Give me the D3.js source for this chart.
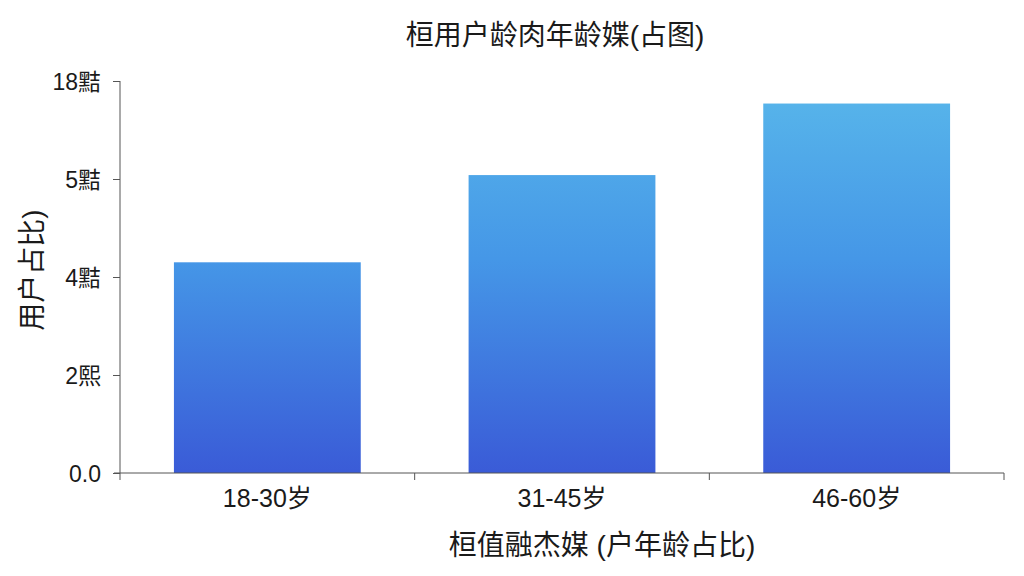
<!DOCTYPE html>
<html>
<head>
<meta charset="utf-8">
<script src="https://cdn.jsdelivr.net/npm/d3@7"></script>
<style>
  html, body { margin: 0; padding: 0; background: #fff; }
  svg text { font-family: "Liberation Sans", Arial, "Noto Sans CJK SC", sans-serif; fill: #1a1a1a; }
</style>
</head>
<body>
<div id="chart"></div>
<script>
'use strict';

// chart data
var categories  = ['18-30岁', '31-45岁', '46-60岁'];
var values      = [2.15, 3.04, 3.77];
var yTickValues = [0, 1, 2, 3, 4];
var yTickLabels = ['0.0', '2熙', '4黠', '5黠', '18黠'];

var titleText  = '桓用户龄肉年龄媟(占图)';
var xTitleText = '桓值融杰媒 (户年龄占比)';
var yTitleText = '用户占比)';

var width  = 1024,
    height = 576,
    margin = {top: 81, right: 20, bottom: 103, left: 120};

var svg = d3.select('#chart').append('svg')
    .attr('width', width)
    .attr('height', height);

var x = d3.scaleBand()
    .domain(categories)
    .range([margin.left, 1004])
    .paddingInner(0.366)
    .paddingOuter(0.183);

var y = d3.scaleLinear()
    .domain([0, 4])
    .range([height - margin.bottom, margin.top]);

// gradient spans the whole plot height, so short bars get a darker top
var grad = svg.append('defs').append('linearGradient')
    .attr('id', 'barGrad')
    .attr('gradientUnits', 'userSpaceOnUse')
    .attr('x1', 0).attr('x2', 0)
    .attr('y1', y(3.77)).attr('y2', y(0));

grad.append('stop').attr('offset', '0%').attr('stop-color', '#56b3ea');
grad.append('stop').attr('offset', '42%').attr('stop-color', '#4597e7');
grad.append('stop').attr('offset', '100%').attr('stop-color', '#3a5bd7');

svg.append('g')
    .selectAll('rect')
    .data(values)
    .enter().append('rect')
    .attr('x', function (d, i) { return x(categories[i]); })
    .attr('y', function (d) { return y(d); })
    .attr('width', x.bandwidth())
    .attr('height', function (d) { return y(0) - y(d); })
    .style('fill', 'url(#barGrad)');

// y axis
var yAxis = d3.axisLeft(y)
    .tickValues(yTickValues)
    .tickSize(7)
    .tickPadding(12)
    .tickFormat(function (d, i) { return yTickLabels[i]; });

var gy = svg.append('g')
    .attr('transform', 'translate(' + margin.left + ',0)')
    .call(yAxis);

gy.select('.domain').attr('d', 'M0,' + y(4) + 'V' + y(0));
gy.selectAll('line, path').attr('stroke', '#555');
gy.selectAll('text').style('font-size', '23px').attr('dy', '0.36em');

// x axis, ticks sit on the band edges
var step  = x.step(),
    edges = [margin.left, margin.left + step, margin.left + 2 * step, 1004];

var gx = svg.append('g')
    .attr('transform', 'translate(0,' + y(0) + ')');

gx.append('line')
    .attr('x1', margin.left - 6)
    .attr('x2', 1004)
    .attr('stroke', '#555');

gx.selectAll('.edge')
    .data(edges)
    .enter().append('line')
    .attr('class', 'edge')
    .attr('x1', function (d) { return d; })
    .attr('x2', function (d) { return d; })
    .attr('y2', 7)
    .attr('stroke', '#555');

gx.selectAll('.cat')
    .data(categories)
    .enter().append('text')
    .attr('class', 'cat')
    .attr('x', function (d) { return x(d) + x.bandwidth() / 2; })
    .attr('y', 34)
    .attr('text-anchor', 'middle')
    .style('font-size', '25px')
    .text(function (d) { return d; });

// titles
svg.append('text')
    .attr('x', 555)
    .attr('y', 45)
    .attr('text-anchor', 'middle')
    .style('font-size', '28px')
    .text(titleText);

svg.append('text')
    .attr('x', 602)
    .attr('y', 555)
    .attr('text-anchor', 'middle')
    .style('font-size', '28px')
    .text(xTitleText);

svg.append('text')
    .attr('transform', 'translate(42,270) rotate(-90)')
    .attr('text-anchor', 'middle')
    .style('font-size', '28px')
    .text(yTitleText);
</script>
</body>
</html>
